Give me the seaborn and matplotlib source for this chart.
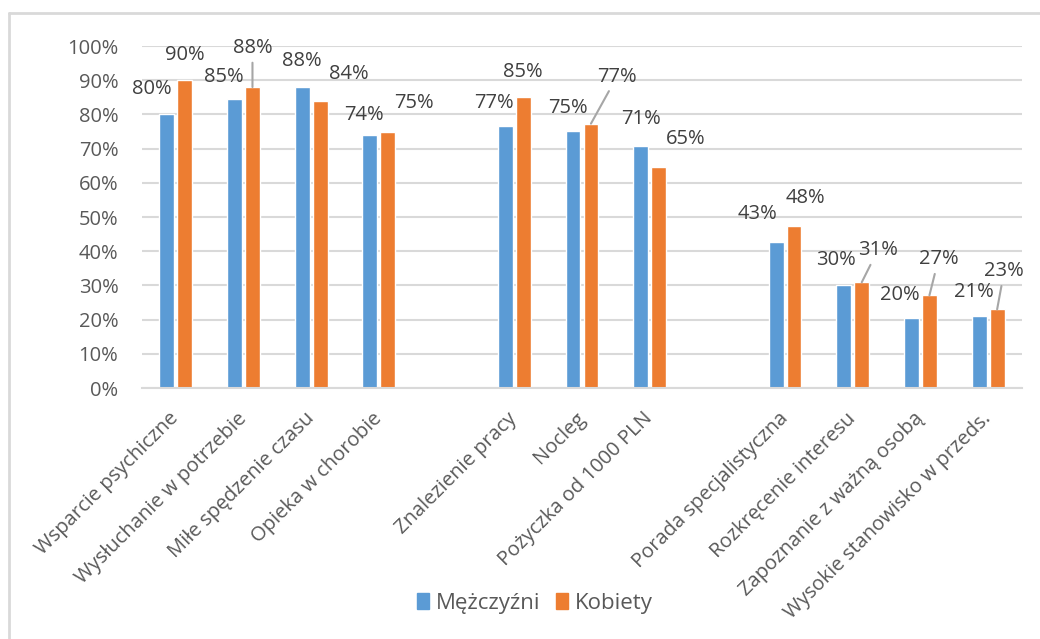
import matplotlib
matplotlib.use("Agg")
from matplotlib import pyplot as plt
from matplotlib.lines import Line2D
import matplotlib.ticker as ticker
import seaborn as sns
import pandas as pd
import numpy as np

# categories, with two empty slots used as group separators
categories = [
    "Wsparcie psychiczne", "Wysłuchanie w potrzebie", "Miłe spędzenie czasu",
    "Opieka w chorobie", " ", "Znalezienie pracy", "Nocleg", "Pożyczka od 1000 PLN",
    "  ", "Porada specjalistyczna", "Rozkręcenie interesu",
    "Zapoznanie z ważną osobą", "Wysokie stanowisko w przeds.",
]
men = [80, 84.6, 88, 74, np.nan, 76.6, 75.2, 70.8, np.nan, 42.6, 30, 20.4, 21]
women = [90, 88, 84, 75, np.nan, 85, 77.3, 64.7, np.nan, 47.5, 30.9, 27.1, 23]
series = ["Mężczyźni", "Kobiety"]
yticks = list(range(0, 101, 10))

# label offsets (pixels from top of bar) and which ones get a leader line
offsets = {
    0: [(-15, 25), (0, 25)],
    1: [(-11, 22), (0, 39)],
    2: [(0, 26), (29, 27)],
    3: [(-6, 20), (26, 29)],
    5: [(-11, 23), (0, 25)],
    6: [(-5, 23), (26, 47)],
    7: [(0, 27), (27, 28)],
    9: [(-19, 28), (11, 28)],
    10: [(-8, 25), (16, 32)],
    11: [(-12, 23), (9, 36)],
    12: [(-5, 24), (7, 38)],
}
leaders = {(1, 1), (6, 1), (10, 1), (11, 1), (12, 1)}

df = pd.DataFrame({"cat": categories * 2,
                   "val": men + women,
                   "who": [series[0]] * len(categories) + [series[1]] * len(categories)})
df = df.dropna()

sns.set_style("white")
plt.rcParams["font.family"] = ["Open Sans", "DejaVu Sans"]
FS = 14.5

fig = plt.figure(figsize=(10.4, 6.39), dpi=100)
ax = fig.add_axes([0.1365, 0.3928, 0.8462, 0.5352])

ax = sns.barplot(data=df, x="cat", y="val", hue="who", order=categories,
                 hue_order=series, palette=["#5B9BD5", "#ED7D31"],
                 width=0.53, gap=0.17, errorbar=None, saturation=1, ax=ax)

ax.set_ylim(0, 100)
ax.set_xlim(-0.5, len(categories) - 0.5)
ax.set_yticks(yticks)
ax.yaxis.set_major_formatter(ticker.FuncFormatter(lambda v, p: f"{v:.0f}%"))
ax.grid(axis="y", color="#D9D9D9", linewidth=1.5)
ax.set_axisbelow(True)
for s in ["top", "right", "left"]:
    ax.spines[s].set_visible(False)
ax.spines["bottom"].set_color("#D9D9D9")
ax.spines["bottom"].set_linewidth(1.5)
ax.tick_params(axis="both", length=0, colors="#595959", labelsize=FS)
ax.tick_params(axis="y", pad=17)
ax.set_xticks(range(len(categories)))
ax.set_xticklabels(categories, rotation=45, ha="right", va="center",
                   rotation_mode="anchor", fontsize=FS, color="#595959")
ax.tick_params(axis="x", pad=20)
ax.set_xlabel("")
ax.set_ylabel("")

# data labels
for k, cont in enumerate(ax.containers):
    for bar in cont:
        h = bar.get_height()
        if np.isnan(h) or h == 0:
            continue
        cx = bar.get_x() + bar.get_width() / 2
        i = int(round(cx))
        dx, dy = offsets[i][k]
        kw = {}
        if (i, k) in leaders:
            kw["arrowprops"] = dict(arrowstyle="-", color="#A6A6A6", lw=1.5,
                                    shrinkA=1, shrinkB=0)
        ax.annotate(f"{h:.0f}%", xy=(cx, h), xytext=(dx, dy),
                    textcoords="offset pixels", ha="center", va="center",
                    fontsize=FS, color="#404040", **kw)

ax.legend_.remove()
handles = [plt.Rectangle((0, 0), 1, 1, color=c) for c in ["#5B9BD5", "#ED7D31"]]
fig.legend(handles, series, loc="center", bbox_to_anchor=(0.514, 0.056),
           ncol=2, frameon=False, fontsize=16, handlelength=0.55, handleheight=0.7,
           handletextpad=0.3, columnspacing=0.7, labelcolor="#595959")

# chart frame
fig.add_artist(Line2D([0.0087, 1], [0.98, 0.98], color="#D9D9D9", lw=2))
fig.add_artist(Line2D([0.0087, 0.0087], [0, 0.98], color="#D9D9D9", lw=2))

plt.savefig("out.png", dpi=100)
